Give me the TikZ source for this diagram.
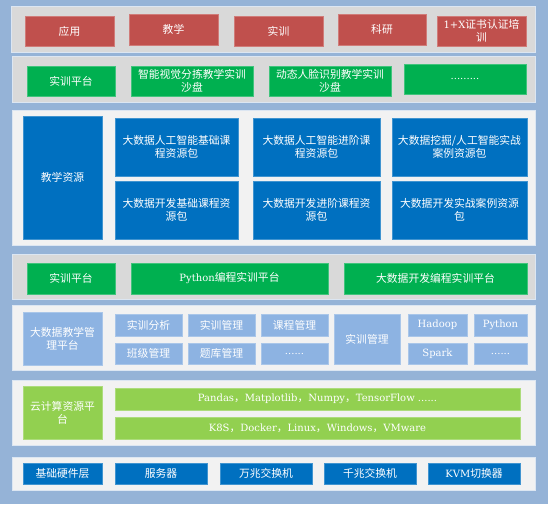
\documentclass[tikz,border=0pt]{standalone}
\usepackage{fontspec}
\setmainfont{DejaVu Serif}
\newfontfamily\cjk{Noto Sans CJK SC}
\definecolor{bgblue}{HTML}{95B3D7}
\definecolor{pgray}{HTML}{D9D9D9}
\definecolor{plight}{HTML}{F2F2F2}
\definecolor{pedge}{HTML}{DCE6F2}
\definecolor{rd}{HTML}{C0504D}
\definecolor{gn}{HTML}{00B050}
\definecolor{bl}{HTML}{0070C0}
\definecolor{lb}{HTML}{8DB3E2}
\definecolor{lg}{HTML}{92D050}
\newcommand{\en}[1]{{\rmfamily\fontsize{10}{13}\selectfont #1}}
% box from corner (x1,y1) to corner (x2,y2)
\newcommand{\blk}[7]{\node[#1, minimum width={#5-#3}, minimum height={#6-#4}]
  (#2) at ({(#3+#5)/2},{(#4+#6)/2}) {#7};}
\tikzset{
  panel/.style={draw=pedge, line width=0.8pt, inner sep=0pt},
  blk/.style={inner sep=0pt, text=white, align=center, line width=0.5pt,
    font=\cjk\fontsize{10.8}{13}\selectfont},
  redbox/.style={blk, fill=rd, draw=rd!75!white},
  grnbox/.style={blk, fill=gn, draw=gn!75!white},
  blubox/.style={blk, fill=bl, draw=bl!75!white},
  ltbox/.style={blk, fill=lb, draw=lb!75!white},
  limebox/.style={blk, fill=lg, draw=lg!75!white}
}

\begin{document}
\begin{tikzpicture}[x=1pt,y=-1pt]
  \useasboundingbox (0,0) rectangle (548,504);
  \fill[bgblue] (0,0) rectangle (548,504);
  % panels
  \blk{panel, fill=pgray}{p1}{11}{6}{535}{52}{}
  \blk{panel, fill=pgray}{p2}{12}{56}{535}{102}{}
  \blk{panel, fill=plight}{p3}{12}{110}{535}{245}{}
  \blk{panel, fill=pgray}{p4}{12}{254}{535}{299}{}
  \blk{panel, fill=plight}{p5}{12}{305}{535}{370}{}
  \blk{panel, fill=plight}{p6}{12}{380}{535}{445}{}
  \blk{panel, fill=plight}{p7}{12}{457}{535}{490}{}
  % application layer
  \blk{redbox}{app}{25}{16}{114}{46}{应用}
  \blk{redbox}{teach}{129}{14}{218}{45}{教学}
  \blk{redbox}{train}{234}{16}{323}{46}{实训}
  \blk{redbox}{research}{338}{14}{426}{45}{科研}
  \blk{redbox}{cert}{437}{16}{526}{46}{\en{1+X}证书认证培\\训}
  % sandboxes
  \blk{grnbox}{sbhead}{27}{66}{115}{96}{实训平台}
  \blk{grnbox}{sbvision}{131}{66}{253}{96}{智能视觉分拣教学实训\\沙盘}
  \blk{grnbox}{sbface}{269}{66}{391}{96}{动态人脸识别教学实训\\沙盘}
  \blk{grnbox}{sbmore}{404}{64}{526}{94}{\en{.........}}
  % teaching resources
  \blk{blubox}{reshead}{23}{116}{102}{239}{教学资源}
  \blk{blubox}{resaibase}{115}{118}{238}{176}{大数据人工智能基础课\\程资源包}
  \blk{blubox}{resaiadv}{253}{118}{380}{176}{大数据人工智能进阶课\\程资源包}
  \blk{blubox}{resaicase}{392}{118}{527}{176}{大数据挖掘/人工智能实战\\案例资源包}
  \blk{blubox}{resdevbase}{115}{181}{238}{239}{大数据开发基础课程资\\源包}
  \blk{blubox}{resdevadv}{253}{181}{380}{239}{大数据开发进阶课程资\\源包}
  \blk{blubox}{resdevcase}{392}{181}{527}{239}{大数据开发实战案例资源\\包}
  % training platforms
  \blk{grnbox}{plhead}{27}{263}{115}{294}{实训平台}
  \blk{grnbox}{plpy}{131}{263}{328}{294}{\en{Python}编程实训平台}
  \blk{grnbox}{pldev}{344}{263}{527}{294}{大数据开发编程实训平台}
  % management platform
  \blk{ltbox}{mghead}{23}{312}{102}{365}{大数据教学管\\理平台}
  \blk{ltbox}{mganal}{115}{314}{182}{336}{实训分析}
  \blk{ltbox}{mgtrain}{188}{314}{255}{336}{实训管理}
  \blk{ltbox}{mgcourse}{261}{314}{328}{336}{课程管理}
  \blk{ltbox}{mgclass}{115}{343}{182}{364}{班级管理}
  \blk{ltbox}{mgbank}{188}{343}{255}{364}{题库管理}
  \blk{ltbox}{mgmore}{261}{343}{328}{364}{\en{......}}
  \blk{ltbox}{mgtrain2}{334}{314}{400}{364}{实训管理}
  \blk{ltbox}{hadoop}{408}{314}{467}{336}{\en{Hadoop}}
  \blk{ltbox}{python}{474}{314}{527}{336}{\en{Python}}
  \blk{ltbox}{spark}{408}{343}{467}{364}{\en{Spark}}
  \blk{ltbox}{tlmore}{474}{343}{527}{364}{\en{......}}
  % cloud
  \blk{limebox}{cloudhead}{23}{386}{102}{439}{云计算资源平\\台}
  \blk{limebox}{libs}{115}{388}{520}{410}{\en{Pandas}，\en{Matplotlib}，\en{Numpy}，\en{TensorFlow ......}}
  \blk{limebox}{envs}{115}{417}{520}{439}{\en{K8S}，\en{Docker}，\en{Linux}，\en{Windows}，\en{VMware}}
  % hardware
  \blk{blubox}{hwhead}{23}{463}{102}{484}{基础硬件层}
  \blk{blubox}{server}{115}{463}{207}{484}{服务器}
  \blk{blubox}{sw10g}{220}{463}{312}{484}{万兆交换机}
  \blk{blubox}{sw1g}{324}{463}{416}{484}{千兆交换机}
  \blk{blubox}{kvm}{428}{463}{520}{484}{\en{KVM}切换器}
\end{tikzpicture}
\end{document}
